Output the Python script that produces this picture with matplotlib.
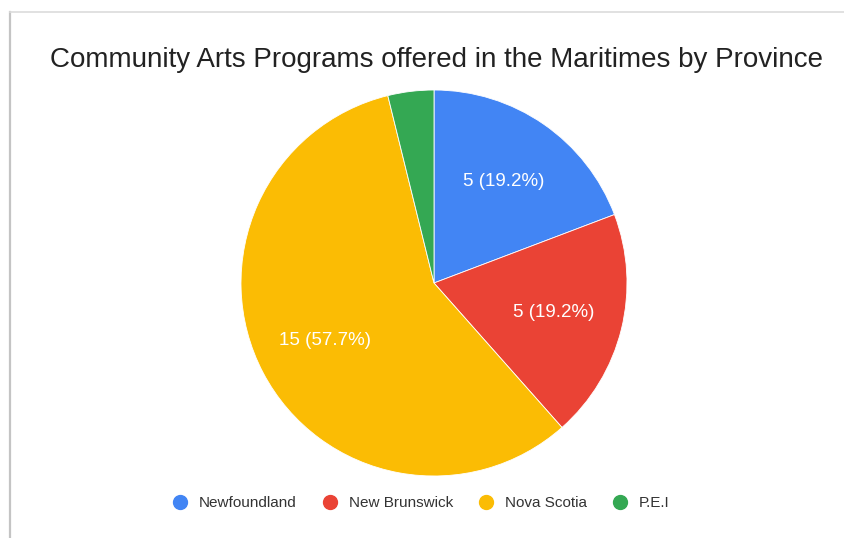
import matplotlib
matplotlib.use("Agg")
import matplotlib.pyplot as plt
from matplotlib.lines import Line2D

categories = ["Newfoundland", "New Brunswick", "Nova Scotia", "P.E.I"]
values = [5, 5, 15, 1]
colors = ["#4285F4", "#EA4335", "#FBBC04", "#34A853"]
title = "Community Arts Programs offered in the Maritimes by Province"

plt.rcParams['font.family'] = ['Liberation Sans', 'DejaVu Sans']

W, H = 844, 538
fig = plt.figure(figsize=(W / 100, H / 100), dpi=100)
fig.patch.set_facecolor("white")

# frame lines (card border)
fig.add_artist(Line2D([9.5 / W, 9.5 / W], [0, 1 - 12 / H], color="#c4c4c4", lw=1.6))
fig.add_artist(Line2D([9.5 / W, 1], [1 - 12 / H, 1 - 12 / H], color="#dcdcdc", lw=1.2))

cx, cy, r = 434, 283, 193
ax = fig.add_axes([(cx - r) / W, (H - cy - r) / H, 2 * r / W, 2 * r / H])
total = sum(values)

def fmt(p):
    v = round(p * total / 100)
    if p < 5:
        return ""
    return f"{v} ({p:.1f}%)"

wedges, texts, autotexts = ax.pie(
    values, colors=colors, startangle=90, counterclock=False,
    autopct=fmt, pctdistance=0.64, radius=1,
    wedgeprops=dict(edgecolor="white", linewidth=0.6),
    textprops=dict(color="white", fontsize=13.5),
)
ax.set_xlim(-1, 1)
ax.set_ylim(-1, 1)
ax.set_aspect("equal")
ax.axis("off")

fig.text(436 / W, 1 - 60 / H, title, ha="center", va="center",
         fontsize=20, color="#222222")

handles = [Line2D([], [], marker="o", linestyle="none", markersize=10,
                  markerfacecolor=c, markeredgecolor=c) for c in colors]
fig.legend(handles, categories, loc="center", bbox_to_anchor=(421 / W, 1 - 503 / H),
           ncol=4, frameon=False, fontsize=11, handletextpad=0.75,
           columnspacing=1.65, labelcolor="#333333", handlelength=1.0)

fig.savefig("out.png", dpi=100, facecolor="white")
